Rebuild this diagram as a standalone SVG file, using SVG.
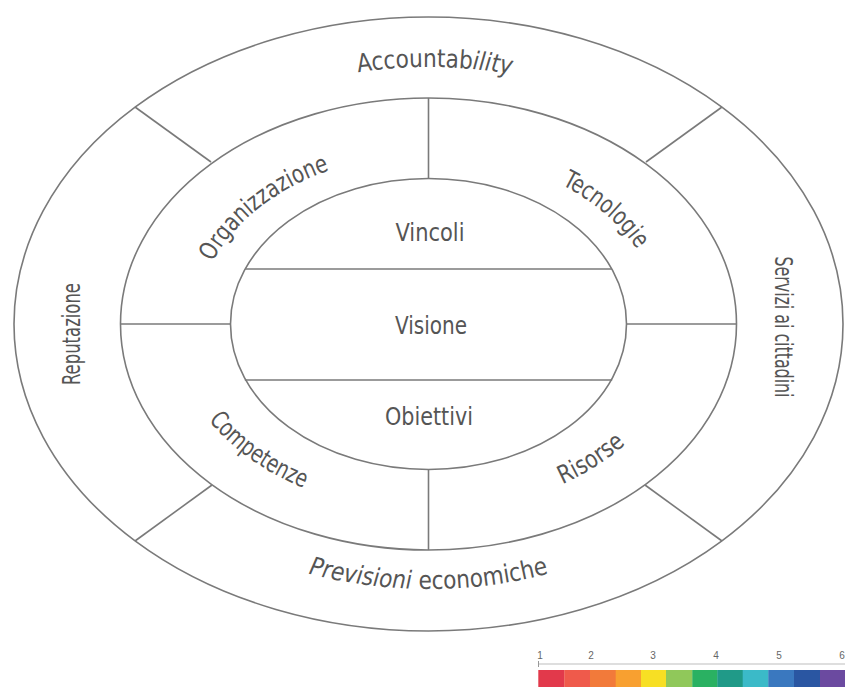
<svg xmlns="http://www.w3.org/2000/svg" width="845" height="687" viewBox="0 0 845 687">
<style>
.ln{fill:none;stroke:#7a7a7a;stroke-width:1.6}
.t{font-family:"Liberation Sans Narrow","DejaVu Sans Condensed","Liberation Sans",sans-serif;font-size:25px;fill:#555}
.lg{font-family:"Liberation Sans",sans-serif;font-size:10px;fill:#666;text-anchor:middle}
</style>
<defs>
<path id="pAcc" d="M101.5,236.1 A348,257 0 0 1 755.5,236.1"/>
<path id="pPrev" d="M92.1,414.6 A358,265 0 0 0 764.9,414.6"/>
<path id="pOrg" d="M197.1,335.9 A232,170 0 0 1 404.3,154.9"/>
<path id="pTec" d="M492.4,160.6 A232,170 0 0 1 660.4,318.1"/>
<path id="pComp" d="M172.9,314.2 A256,188 0 0 0 415.1,511.7"/>
<path id="pRis" d="M428.5,512 A256,188 0 0 0 684.5,324"/>
</defs>
<rect width="845" height="687" fill="#fff"/>
<g id="rings">
<ellipse class="ln" cx="428.5" cy="324" rx="414.5" ry="307"/>
<ellipse class="ln" cx="428.5" cy="324" rx="308" ry="226"/>
<ellipse class="ln" cx="428.5" cy="324" rx="198" ry="145.5"/>
</g>
<g id="connectors">
<line class="ln" x1="135" y1="107" x2="211" y2="162"/>
<line class="ln" x1="722" y1="107" x2="646" y2="162"/>
<line class="ln" x1="212" y1="485" x2="135" y2="541"/>
<line class="ln" x1="645" y1="485" x2="722" y2="541"/>
<line class="ln" x1="428.5" y1="98" x2="428.5" y2="178.5"/>
<line class="ln" x1="428.5" y1="469.5" x2="428.5" y2="550"/>
<line class="ln" x1="120.5" y1="324" x2="230.5" y2="324"/>
<line class="ln" x1="626.5" y1="324" x2="736.5" y2="324"/>
<line class="ln" x1="245.2" y1="269" x2="611.8" y2="269"/>
<line class="ln" x1="244.8" y1="380" x2="612.2" y2="380"/>
</g>
<g id="accountability"><text class="t"><textPath href="#pAcc" startOffset="50.8%" text-anchor="middle" textLength="154" lengthAdjust="spacingAndGlyphs">Accountab<tspan font-style="italic">ility</tspan></textPath></text></g>
<g id="previsioni"><text class="t"><textPath href="#pPrev" startOffset="50%" text-anchor="middle" textLength="243" lengthAdjust="spacingAndGlyphs"><tspan font-style="italic">Previsioni</tspan> economiche</textPath></text></g>
<g id="reputazione"><text class="t" transform="translate(80,334) rotate(-90)" text-anchor="middle" textLength="102" lengthAdjust="spacingAndGlyphs">Reputazione</text></g>
<g id="servizi"><text class="t" transform="translate(775,327) rotate(90)" text-anchor="middle" textLength="141" lengthAdjust="spacingAndGlyphs">Servizi ai cittadini</text></g>
<g id="organizzazione"><text class="t"><textPath href="#pOrg" startOffset="50%" text-anchor="middle" textLength="152" lengthAdjust="spacingAndGlyphs">Organizzazione</textPath></text></g>
<g id="tecnologie"><text class="t"><textPath href="#pTec" startOffset="50%" text-anchor="middle" textLength="100" lengthAdjust="spacingAndGlyphs">Tecnologie</textPath></text></g>
<g id="competenze"><text class="t"><textPath href="#pComp" startOffset="50%" text-anchor="middle" textLength="118" lengthAdjust="spacingAndGlyphs">Competenze</textPath></text></g>
<g id="risorse"><text class="t"><textPath href="#pRis" startOffset="50%" text-anchor="middle" textLength="75" lengthAdjust="spacingAndGlyphs">Risorse</textPath></text></g>
<g id="vincoli"><text class="t" x="430" y="241" text-anchor="middle" textLength="69" lengthAdjust="spacingAndGlyphs">Vincoli</text></g>
<g id="visione"><text class="t" x="431" y="334" text-anchor="middle" textLength="72" lengthAdjust="spacingAndGlyphs">Visione</text></g>
<g id="obiettivi"><text class="t" x="429" y="425" text-anchor="middle" textLength="88" lengthAdjust="spacingAndGlyphs">Obiettivi</text></g>
<g id="legend">
<line x1="538.5" y1="664" x2="845" y2="664" stroke="#bdbdbd" stroke-width="1"/>
<line x1="538.5" y1="661" x2="538.5" y2="667" stroke="#999" stroke-width="1"/>
<text class="lg" x="540" y="659">1</text>
<text class="lg" x="591" y="659">2</text>
<text class="lg" x="653" y="659">3</text>
<text class="lg" x="716" y="659">4</text>
<text class="lg" x="779" y="659">5</text>
<text class="lg" x="842" y="659">6</text>
<rect x="538.3" y="670" width="26.2" height="17" fill="#e2394b"/>
<rect x="564.3" y="670" width="26" height="17" fill="#ef5a4b"/>
<rect x="590" y="670" width="26" height="17" fill="#f27a3a"/>
<rect x="615.7" y="670" width="25.6" height="17" fill="#f8a030"/>
<rect x="641" y="670" width="25.3" height="17" fill="#f7df24"/>
<rect x="666" y="670" width="26.6" height="17" fill="#90c85a"/>
<rect x="692.3" y="670" width="25.3" height="17" fill="#2ab162"/>
<rect x="717.3" y="670" width="25.7" height="17" fill="#209a88"/>
<rect x="742.7" y="670" width="25.9" height="17" fill="#3bbac8"/>
<rect x="768.3" y="670" width="26" height="17" fill="#3a78bf"/>
<rect x="794" y="670" width="26.3" height="17" fill="#2a56a2"/>
<rect x="820" y="670" width="25" height="17" fill="#6b4aa0"/>
</g>
</svg>
